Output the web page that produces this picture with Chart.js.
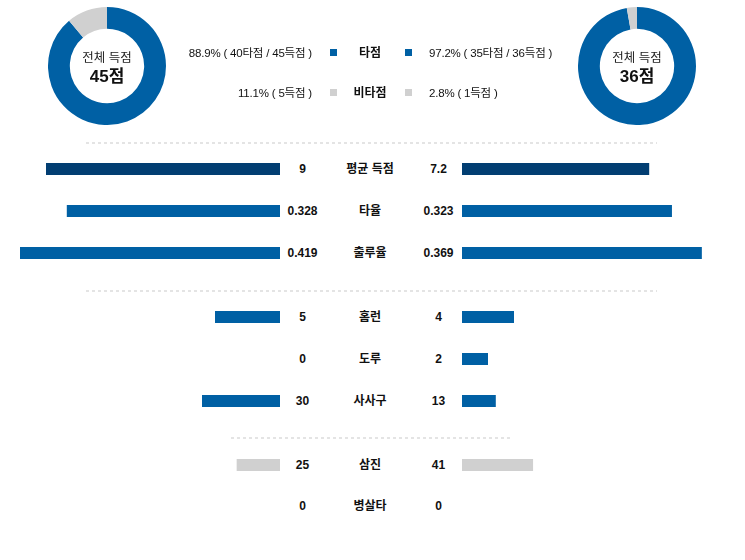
<!DOCTYPE html>
<html>
<head>
<meta charset="utf-8">
<script src="https://cdn.jsdelivr.net/npm/chart.js@4/dist/chart.umd.min.js"></script>
<style>
  html, body { margin: 0; padding: 0; background: #ffffff; }
  #wrap { position: relative; width: 745px; height: 560px; overflow: hidden;
          font-family: "Liberation Sans", Arial, "Noto Sans CJK KR", sans-serif; color: #111; }
  canvas { position: absolute; display: block; }
  .t { position: absolute; white-space: nowrap; font-size: 12px; line-height: 14px; }
  .lg { font-size: 11.5px; letter-spacing: -0.2px; }
  .b { font-weight: bold; }
  .c { transform: translateX(-50%); text-align: center; }
  .r { transform: translateX(-100%); text-align: right; }
  .sq { position: absolute; width: 7px; height: 7px; }
  .dots { position: absolute; height: 2px;
          background: repeating-linear-gradient(to right, #e4e4e4 0 3px, transparent 3px 6px); }
</style>
</head>
<body>
<div id="wrap"></div>
<script>
// ---------- DATA ----------
const donutCategories = ['타점', '비타점'];
const homeDonut = [40, 5];          // 타점, 비타점 (home, 45득점)
const awayDonut = [35, 1];          // 타점, 비타점 (away, 36득점)
const homeTotal = 45;
const awayTotal = 36;

const categories = ['평균 득점', '타율', '출루율', '홈런', '도루', '사사구', '삼진', '병살타'];
const homeValues = [9, 0.328, 0.419, 5, 0, 30, 25, 0];
const awayValues = [7.2, 0.323, 0.369, 4, 2, 13, 41, 0];
const homeLabels = ['9', '0.328', '0.419', '5', '0', '30', '25', '0'];
const awayLabels = ['7.2', '0.323', '0.369', '4', '2', '13', '41', '0'];
const rowScaleMax = [10, 0.4, 0.4, 20, 20, 100, 150, 10];

// ---------- STYLE / LAYOUT ----------
const BLUE = '#0060a4';
const NAVY = '#023e72';
const GREY = '#d0d0d0';
const rowColors = [NAVY, BLUE, BLUE, BLUE, BLUE, BLUE, GREY, GREY];
const rowY = [169, 211, 252.5, 317, 359, 401, 465, 506];
const LEFT_X0 = 20, RIGHT_X0 = 462, BAR_W = 260;

const wrap = document.getElementById('wrap');
function el(tag, cls, style, text) {
  const e = document.createElement(tag);
  if (cls) e.className = cls;
  Object.assign(e.style, style || {});
  if (text !== undefined) e.textContent = text;
  wrap.appendChild(e);
  return e;
}
function canvas(x, y, w, h) {
  const c = el('canvas', '', { left: x + 'px', top: y + 'px', width: w + 'px', height: h + 'px' });
  c.width = w; c.height = h;
  return c;
}

// ---------- DONUTS ----------
function donut(cx, cy, r, data, total) {
  const c = canvas(cx - r, cy - r, 2 * r, 2 * r);
  new Chart(c, {
    type: 'doughnut',
    data: { labels: donutCategories, datasets: [{ data: data, backgroundColor: [BLUE, GREY], borderWidth: 0 }] },
    options: {
      responsive: false, animation: false, cutout: '63%',
      plugins: { legend: { display: false }, tooltip: { enabled: false } },
      layout: { padding: 0 }
    }
  });
  el('div', 't c', { left: cx + 'px', top: (cy - 15) + 'px', fontSize: '12.5px', lineHeight: '15px', color: '#222' }, '전체 득점');
  el('div', 't b c', { left: cx + 'px', top: (cy + 1) + 'px', fontSize: '17px', lineHeight: '20px', color: '#111' }, total + '점');
}
donut(107, 66, 59, homeDonut, homeTotal);
donut(637, 66, 59, awayDonut, awayTotal);

// ---------- DONUT LEGEND ----------
function pct(v, t) { return (v / t * 100).toFixed(1) + '%'; }
const legY = [46, 86];
el('div', 't lg r', { left: '312px', top: legY[0] + 'px' }, pct(homeDonut[0], homeTotal) + ' ( ' + homeDonut[0] + '타점 / ' + homeTotal + '득점 )');
el('div', 't lg', { left: '429px', top: legY[0] + 'px' }, pct(awayDonut[0], awayTotal) + ' ( ' + awayDonut[0] + '타점 / ' + awayTotal + '득점 )');
el('div', 't lg r', { left: '312px', top: legY[1] + 'px' }, pct(homeDonut[1], homeTotal) + ' ( ' + homeDonut[1] + '득점 )');
el('div', 't lg', { left: '429px', top: legY[1] + 'px' }, pct(awayDonut[1], awayTotal) + ' ( ' + awayDonut[1] + '득점 )');
el('div', 't b c', { left: '370px', top: legY[0] + 'px' }, donutCategories[0]);
el('div', 't b c', { left: '370px', top: legY[1] + 'px' }, donutCategories[1]);
[[BLUE, legY[0]], [GREY, legY[1]]].forEach(([col, y]) => {
  el('div', 'sq', { left: '330px', top: (y + 3) + 'px', background: col });
  el('div', 'sq', { left: '405px', top: (y + 3) + 'px', background: col });
});

// ---------- SEPARATORS ----------
el('div', 'dots', { left: '86px', top: '142px', width: '571px' });
el('div', 'dots', { left: '86px', top: '290px', width: '571px' });
el('div', 'dots', { left: '231px', top: '437px', width: '280px' });

// ---------- BAR ROWS ----------
function bar(x, y, value, max, color, reverse, label) {
  const c = canvas(x, y - 10, BAR_W, 20);
  new Chart(c, {
    type: 'bar',
    data: { labels: [label], datasets: [{ data: [value], backgroundColor: color, borderWidth: 0, barThickness: 12, inflateAmount: 0 }] },
    options: {
      indexAxis: 'y', responsive: false, animation: false,
      layout: { padding: 0 },
      plugins: { legend: { display: false }, tooltip: { enabled: false } },
      scales: {
        x: { display: false, min: 0, max: max, reverse: reverse },
        y: { display: false }
      }
    }
  });
}
categories.forEach((cat, i) => {
  const y = rowY[i];
  bar(LEFT_X0, y, homeValues[i], rowScaleMax[i], rowColors[i], true, cat);
  bar(RIGHT_X0, y, awayValues[i], rowScaleMax[i], rowColors[i], false, cat);
  el('div', 't b c', { left: '302.5px', top: (y - 7) + 'px' }, homeLabels[i]);
  el('div', 't b c', { left: '370px', top: (y - 7) + 'px' }, cat);
  el('div', 't b c', { left: '438.5px', top: (y - 7) + 'px' }, awayLabels[i]);
});
</script>
</body>
</html>
